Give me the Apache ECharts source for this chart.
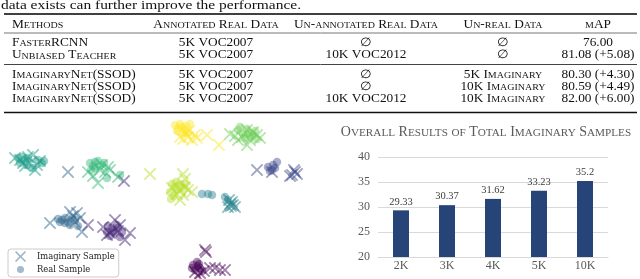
<!DOCTYPE html>
<html>
<head>
<meta charset="utf-8">
<script src="https://cdn.jsdelivr.net/npm/echarts@6/dist/echarts.min.js"></script>
<style>
html,body{margin:0;padding:0;background:#fff;}
#main{width:640px;height:279px;}
</style>
</head>
<body>
<div id="main"></div>
<script>
// ---------------- Data ----------------
const captionText = 'data exists can further improve the performance.';
const tableHeaders = ['Methods', 'Annotated Real Data', 'Un-annotated Real Data', 'Un-real Data', 'mAP'];
const methods = ['FasterRCNN', 'Unbiased Teacher', 'ImaginaryNet(SSOD)', 'ImaginaryNet(SSOD)', 'ImaginaryNet(SSOD)'];
const annotatedData = ['5K VOC2007', '5K VOC2007', '5K VOC2007', '5K VOC2007', '5K VOC2007'];
const unannotatedData = ['\u2205', '10K VOC2012', '\u2205', '\u2205', '10K VOC2012'];
const unrealData = ['\u2205', '\u2205', '5K Imaginary', '10K Imaginary', '10K Imaginary'];
const mapValues = [76.00, 81.08, 80.30, 80.59, 82.00];
const mapGains = [null, 5.08, 4.30, 4.49, 6.00];

const barTitle = 'Overall Results of Total Imaginary Samples';
const barCategories = ['2K', '3K', '4K', '5K', '10K'];
const barValues = [29.33, 30.37, 31.62, 33.23, 35.2];

const classColors = ['#440154','#482878','#3e4989','#31688e','#26828e','#1f9e89','#35b779','#6ece58','#b5de2b','#fde725'];
// [x, y, class] (t-SNE embedding)
const imaginaryPoints = [
  [180,137,9],[183,139,9],[188,137,9],[192,140,9],[195,135,9],[186,133,9],[207,135,9],[219,145,9],[189,131,9],[197,138,9],
  [230,134,7],[238,140,7],[247,130,7],[253,132,7],[247,145,7],[257,135,7],[242,137,7],[250,140,7],[235,136,7],[260,138,7],
  [15,158,5],[20,160,5],[28,157,5],[33,155,5],[23,163,5],[30,163,5],[37,165,5],[35,170,5],[25,166,5],[40,161,5],
  [88,172,6],[100,170,6],[105,172,6],[108,167,6],[98,183,6],[118,177,6],[102,165,6],[93,176,6],[110,170,6],
  [68,172,3],[50,223,3],[77,213,3],[80,218,3],[75,222,3],[82,232,3],[73,216,3],[70,212,3],
  [124,181,1],[88,225,1],[103,227,1],[115,220,1],[110,233,1],[125,240,1],[130,233,1],[118,231,1],[107,235,1],[120,225,1],
  [257,170,2],[272,172,2],[292,175,2],[295,172,2],[297,174,2],[294,170,2],[290,176,2],
  [150,174,8],[183,174,8],[185,179,8],[180,190,8],[185,187,8],[192,192,8],[180,200,8],[183,195,8],[177,194,8],[172,188,8],[188,190,8],
  [230,204,4],[233,205,4],[228,207,4],[232,202,4],[231,206,4],[229,200,4],[235,207,4],
  [205,250,0],[206,252,0],[195,272,0],[200,273,0],[210,268,0],[215,268,0],[220,270,0],[225,270,0],[198,276,0],[204,271,0]
];
const realPoints = [
  [175,125,9],[178,128,9],[177,131,9],[182,127,9],[190,124,9],[188,133,9],[185,130,9],[180,124,9],[186,126,9],[183,133,9],
  [238,130,7],[243,134,7],[247,129,7],[250,137,7],[257,139,7],[245,138,7],[253,135,7],[240,127,7],[255,131,7],[249,133,7],
  [18,158,5],[22,157,5],[25,160,5],[20,163,5],[33,168,5],[42,163,5],[44,161,5],[28,158,5],[38,160,5],[27,165,5],
  [90,163,6],[95,162,6],[98,161,6],[93,166,6],[95,168,6],[107,178,6],[120,175,6],[100,166,6],[104,163,6],[91,170,6],
  [62,220,3],[65,223,3],[68,222,3],[72,218,3],[65,218,3],[70,225,3],[60,222,3],[58,219,3],[75,220,3],[78,226,3],
  [107,232,1],[112,228,1],[115,233,1],[118,228,1],[117,225,1],[120,237,1],[110,236,1],[113,231,1],[122,232,1],[108,226,1],
  [268,167,2],[272,170,2],[273,165,2],[277,162,2],[270,171,2],[275,168,2],
  [172,184,8],[177,190,8],[180,184,8],[170,192,8],[171,199,8],[175,187,8],[183,188,8],[176,182,8],[185,184,8],[174,196,8],
  [202,194,4],[208,194,4],[212,195,4],[225,197,4],[228,200,4],
  [197,262,0],[193,265,0],[200,268,0],[195,270,0],[198,266,0],[202,271,0],[192,268,0],[199,264,0]
];

// ---------------- Helpers ----------------
const SERIF = 'Liberation Serif';
function smallCaps(str, big, small, color) {
  let out = '';
  let cur = null, buf = '';
  for (const ch of str) {
    const isLower = ch !== ch.toUpperCase() && ch === ch.toLowerCase();
    const t = isLower ? 'S' : 'B';
    const c = isLower ? ch.toUpperCase() : ch;
    if (t !== cur && buf) { out += '{' + cur + '|' + buf + '}'; buf = ''; }
    cur = t; buf += c;
  }
  if (buf) out += '{' + cur + '|' + buf + '}';
  return {
    text: out,
    rich: {
      B: {fontSize: big, lineHeight: big, fontWeight: 'normal', verticalAlign: 'bottom', fontFamily: SERIF, fill: color, color: color},
      S: {fontSize: small, lineHeight: big, fontWeight: 'normal', verticalAlign: 'bottom', fontFamily: SERIF, fill: color, color: color}
    }
  };
}
const SX = 1.11;
function tableText(str, x, y, align) {
  const sc = smallCaps(str, 12, 9, '#111');
  return {
    type: 'text', x: x, y: y, scaleX: SX, silent: true,
    style: {text: sc.text, rich: sc.rich, align: align, verticalAlign: 'middle', fill: '#111', fontFamily: SERIF, fontSize: 12}
  };
}
function rule(y, lw, color) {
  return {type: 'line', silent: true, shape: {x1: 4, y1: y, x2: 637, y2: y}, style: {stroke: color, lineWidth: lw}};
}

// ---------------- Table graphics ----------------
const colX = [12, 216, 366, 503, 598];
const colAlign = ['left', 'center', 'center', 'center', 'center'];
const headerY = 24.5;
const rowY = [42.5, 54.8, 74.5, 86.5, 98.5];
const graphics = [];
graphics.push({type: 'text', x: 1, y: 5.4, scaleX: 1.145, silent: true,
  style: {text: captionText, fontSize: 13.5, fontFamily: SERIF, fill: '#111', align: 'left', verticalAlign: 'middle'}});
graphics.push(rule(14, 1.6, '#000'));
graphics.push(rule(33, 1, '#777'));
graphics.push(rule(64.5, 1, '#444'));
graphics.push(rule(112.5, 1.6, '#111'));
tableHeaders.forEach((h, i) => graphics.push(tableText(h, colX[i], headerY, colAlign[i])));
for (let r = 0; r < methods.length; r++) {
  const mapStr = mapValues[r].toFixed(2) + (mapGains[r] === null ? '' : ' (+' + mapGains[r].toFixed(2) + ')');
  const cells = [methods[r], annotatedData[r], unannotatedData[r], unrealData[r], mapStr];
  cells.forEach((c, i) => graphics.push(tableText(c, colX[i], rowY[r], colAlign[i])));
}

// ---------------- Chart ----------------
const xPath = 'path://M0,1L1,0L5,4L9,0L10,1L6,5L10,9L9,10L5,6L1,10L0,9L4,5Z';
const circlePath = 'path://M0,0L0.01,0M10,10L9.99,10M5,1.8A3.2,3.2,0,1,1,5,8.2A3.2,3.2,0,1,1,5,1.8Z';
const titleSc = smallCaps(barTitle, 14, 11.2, '#595959');

const chart = echarts.init(document.getElementById('main'), null, {renderer: 'canvas'});
chart.setOption({
  animation: false,
  backgroundColor: '#ffffff',
  title: {
    text: titleSc.text, left: 481, top: 120, textAlign: 'center',
    textStyle: {rich: titleSc.rich, fontFamily: SERIF, fontWeight: 'normal', color: '#595959'}
  },
  legend: {
    data: [{name: 'Imaginary Sample', icon: xPath}, {name: 'Real Sample', icon: circlePath}],
    orient: 'vertical', left: 8, top: 249,
    itemWidth: 11, itemHeight: 11, itemGap: 2,
    padding: [2, 4, 2, 7],
    borderColor: '#cccccc', borderWidth: 1, borderRadius: 3,
    backgroundColor: '#ffffff',
    textStyle: {fontFamily: 'DejaVu Serif', fontSize: 8.4, color: '#222', padding: [0, 0, 0, 6]}
  },
  grid: [
    {left: 0, top: 112, width: 320, height: 167},
    {left: 378, top: 157, width: 230, height: 100}
  ],
  xAxis: [
    {type: 'value', gridIndex: 0, min: 0, max: 320, show: false},
    {type: 'category', gridIndex: 1, data: barCategories,
     axisLine: {lineStyle: {color: '#d9d9d9', width: 1}}, axisTick: {show: false},
     axisLabel: {color: '#595959', fontSize: 12, fontFamily: SERIF, margin: 3}}
  ],
  yAxis: [
    {type: 'value', gridIndex: 0, min: 112, max: 279, inverse: true, show: false},
    {type: 'value', gridIndex: 1, min: 20, max: 40, interval: 5,
     axisLine: {show: false}, axisTick: {show: false},
     axisLabel: {color: '#595959', fontSize: 12, fontFamily: SERIF, margin: 8},
     splitLine: {lineStyle: {color: '#d9d9d9', width: 1}}}
  ],
  series: [
    {
      name: 'Imaginary Sample', type: 'scatter', xAxisIndex: 0, yAxisIndex: 0,
      symbol: xPath, symbolSize: 12.5, silent: true,
      itemStyle: {color: '#31688e', opacity: 0.5},
      data: imaginaryPoints.map(p => ({value: [p[0], p[1]], itemStyle: {color: classColors[p[2]]}}))
    },
    {
      name: 'Real Sample', type: 'scatter', xAxisIndex: 0, yAxisIndex: 0,
      symbol: 'circle', symbolSize: 8.5, silent: true,
      itemStyle: {color: '#31688e', opacity: 0.45},
      data: realPoints.map(p => ({value: [p[0], p[1]], itemStyle: {color: classColors[p[2]]}}))
    },
    {
      name: 'Total Imaginary Samples', type: 'bar', xAxisIndex: 1, yAxisIndex: 1,
      data: barValues, barWidth: 16, silent: true,
      itemStyle: {color: '#264478'},
      label: {show: true, position: 'top', distance: 3, color: '#404040', fontSize: 10.5, fontFamily: SERIF}
    }
  ],
  graphic: graphics
});
</script>
</body>
</html>
